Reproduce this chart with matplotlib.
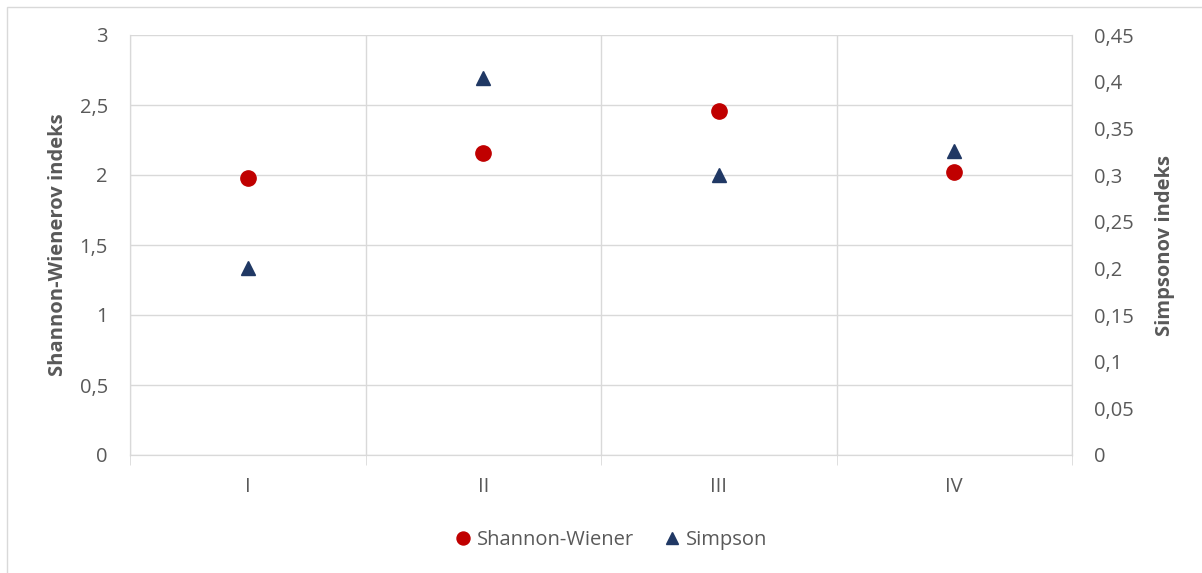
import matplotlib.pyplot as plt
from matplotlib.patches import Rectangle

# data
categories = ['I', 'II', 'III', 'IV']
shannon = [1.98, 2.16, 2.46, 2.02]
simpson = [0.20, 0.404, 0.30, 0.326]

red = '#C00000'
navy = '#203864'
grey_text = '#595959'
grid_col = '#D9D9D9'

plt.rcParams['font.family'] = ['Open Sans', 'DejaVu Sans']

fig = plt.figure(figsize=(12.02, 5.73), dpi=100)
# outer chart frame
fig.patches.append(Rectangle((7 / 1202, -0.01), 1.02, 1 - 7 / 573 + 0.01,
                             transform=fig.transFigure, fill=False,
                             edgecolor=grid_col, linewidth=1))

ax = fig.add_axes([130 / 1202, 118 / 573, 942 / 1202, 420 / 573])
ax2 = ax.twinx()

x = list(range(len(categories)))
ax.plot(x, shannon, 'o', color=red, markersize=11, label='Shannon-Wiener', zorder=3)
ax2.plot(x, simpson, '^', color=navy, markersize=10.5, label='Simpson', zorder=3)

ax.set_xlim(-0.5, len(categories) - 0.5)
ax.set_ylim(0, 3)
ax2.set_ylim(0, 0.45)
ax.set_yticks([0, 0.5, 1, 1.5, 2, 2.5, 3])
ax2.set_yticks([0, 0.05, 0.1, 0.15, 0.2, 0.25, 0.3, 0.35, 0.4, 0.45])
ax.set_yticklabels([f'{v:g}'.replace('.', ',') for v in ax.get_yticks()])
ax2.set_yticklabels([f'{v:g}'.replace('.', ',') for v in ax2.get_yticks()])

ax.set_xticks(x)
ax.set_xticklabels(categories)
ax.set_xticks([i - 0.5 for i in range(len(categories) + 1)], minor=True)

ax.grid(axis='y', color=grid_col, linewidth=1)
ax.grid(axis='x', which='minor', color=grid_col, linewidth=1)
ax.set_axisbelow(True)

for a in (ax, ax2):
    for s in a.spines.values():
        s.set_color(grid_col)
    a.spines['top'].set_visible(False)

ax.tick_params(axis='x', which='major', length=0, pad=16, labelsize=14.5, labelcolor=grey_text)
ax.tick_params(axis='x', which='minor', length=7, color=grid_col)
ax.tick_params(axis='y', length=0, pad=16, labelsize=14.5, labelcolor=grey_text)
ax2.tick_params(axis='y', length=0, pad=16, labelsize=14.5, labelcolor=grey_text)

ax.set_ylabel('Shannon-Wienerov indeks', fontsize=14.5, fontweight='bold', color=grey_text, labelpad=8)
ax2.set_ylabel('Simpsonov indeks', fontsize=14.5, fontweight='bold', color=grey_text, labelpad=15)

h1, l1 = ax.get_legend_handles_labels()
h2, l2 = ax2.get_legend_handles_labels()
fig.legend(h1 + h2, l1 + l2, loc='center', bbox_to_anchor=(610 / 1202, 1 - 540 / 573),
           ncol=2, frameon=False, fontsize=14.5, labelcolor=grey_text,
           handlelength=1.0, handletextpad=0.2, columnspacing=1.4, markerscale=0.85)

fig.savefig('out.png', dpi=100)
